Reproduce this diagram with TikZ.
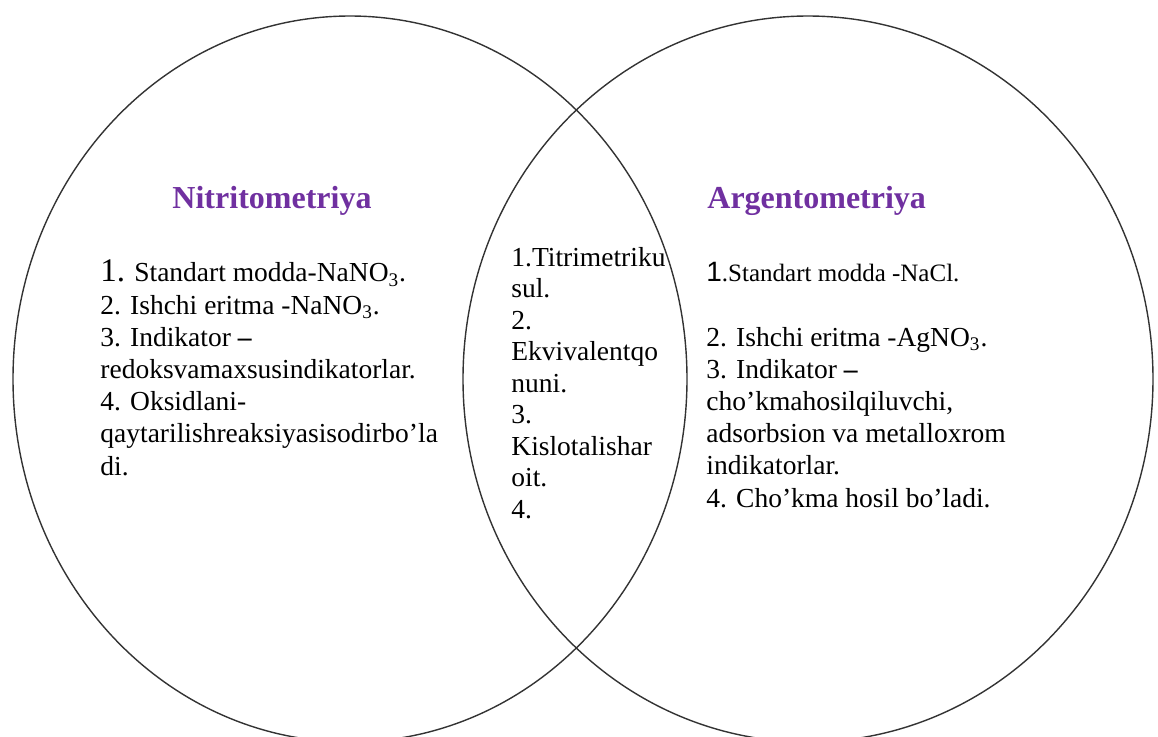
\documentclass[tikz,border=0pt]{standalone}
\usepackage{fontspec}
\setmainfont{Liberation Serif}
\newfontfamily\numfont{Liberation Sans}
\definecolor{titlepurple}{RGB}{112,48,160}

\begin{document}
\begin{tikzpicture}[
  x=0.5pt, y=-0.5pt,
  set/.style={draw=black!80, line width=0.7pt},
  head/.style={font=\fontsize{16}{19}\selectfont\bfseries, text=titlepurple,
               inner sep=0pt},
  items/.style={align=left, inner sep=0pt, anchor=base west,
                font=\fontsize{13.75}{16.1}\selectfont}
]
\useasboundingbox (0,0) rectangle (1158,736);
\clip (0,0) rectangle (1158,736);

% the two sets
\draw[set] (350,379) ellipse [x radius=337, y radius=363];
\draw[set] (808,379) ellipse [x radius=345, y radius=363];

% headings
\node[head, anchor=base] (nitrit) at (272,208) {Nitritometriya};
\node[head, anchor=base west] (argent) at (707,208) {Argentometriya};

% left set (anchored at the last line)
\node[items] (nitritlist) at (100,475)
  {{\fontsize{16.5}{16.1}\selectfont 1.} Standart modda-NaNO\textsubscript{3}.\\
   2. Ishchi eritma -NaNO\textsubscript{3}.\\
   3. Indikator \textbf{--}\\
   redoksvamaxsusindikatorlar.\\
   4. Oksidlani-\\
   qaytarilishreaksiyasisodirbo’la\\
   di.};

% overlap
\node[items, font=\fontsize{13.75}{15.75}\selectfont] (common) at (511,518)
  {1.Titrimetriku\\ sul.\\ 2.\\ Ekvivalentqo\\ nuni.\\ 3.\\
   Kislotalishar\\ oit.\\ 4.};

% right set
\node[items] (argentlist) at (706,507)
  {{\numfont\fontsize{14}{16.1}\selectfont 1}{\fontsize{12.5}{16.1}\selectfont .Standart modda -NaCl.}\\[16pt]
   2. Ishchi eritma -AgNO\textsubscript{3}.\\
   3. Indikator \textbf{--}\\
   cho’kmahosilqiluvchi,\\
   adsorbsion va metalloxrom\\
   indikatorlar.\\
   4. Cho’kma hosil bo’ladi.};
\end{tikzpicture}
\end{document}
